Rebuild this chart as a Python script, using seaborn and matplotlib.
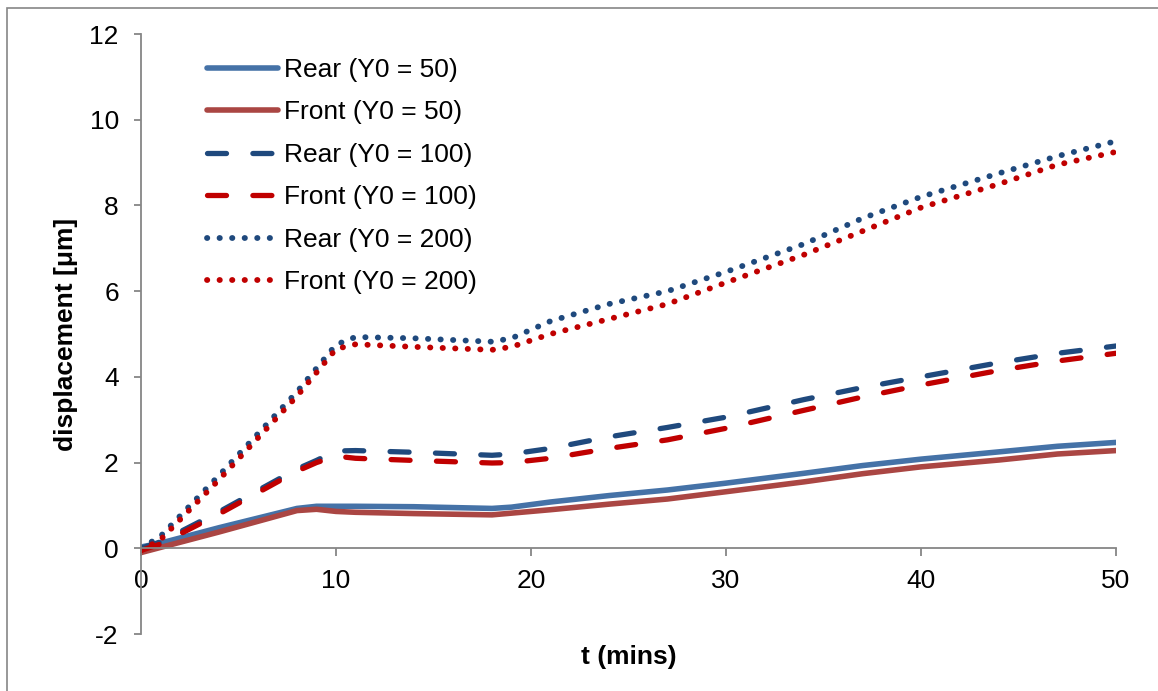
import matplotlib
matplotlib.use("Agg")
import matplotlib.pyplot as plt
import seaborn as sns
import pandas as pd
from matplotlib.patches import Rectangle

# ---- data ----
t = [0, 1, 4, 8, 9, 10, 11, 14, 18, 19, 21, 24, 27, 30, 34, 37, 40, 44, 47, 50]
rear_50 = [0.03, 0.12, 0.48, 0.93, 0.98, 0.98, 0.98, 0.97, 0.93, 0.96, 1.08, 1.23, 1.36, 1.52, 1.75, 1.93, 2.08, 2.25, 2.38, 2.47]
front_50 = [-0.1, 0.02, 0.38, 0.88, 0.91, 0.86, 0.84, 0.81, 0.78, 0.82, 0.90, 1.03, 1.15, 1.32, 1.55, 1.74, 1.90, 2.06, 2.20, 2.28]
rear_100 = [0.0, 0.15, 0.85, 1.85, 2.05, 2.27, 2.28, 2.24, 2.17, 2.20, 2.33, 2.60, 2.82, 3.06, 3.47, 3.75, 4.00, 4.33, 4.55, 4.72]
front_100 = [-0.05, 0.10, 0.80, 1.80, 2.00, 2.15, 2.10, 2.05, 1.99, 2.00, 2.10, 2.33, 2.53, 2.80, 3.22, 3.53, 3.81, 4.15, 4.37, 4.55]
rear_200 = [0.0, 0.28, 1.70, 3.65, 4.20, 4.75, 4.93, 4.90, 4.82, 4.90, 5.30, 5.70, 6.00, 6.45, 7.10, 7.70, 8.20, 8.75, 9.15, 9.50]
front_200 = [-0.05, 0.20, 1.60, 3.55, 4.10, 4.65, 4.76, 4.70, 4.63, 4.70, 5.00, 5.35, 5.70, 6.20, 6.85, 7.40, 7.95, 8.50, 8.95, 9.25]

labels = ["Rear (Y0 = 50)", "Front (Y0 = 50)", "Rear (Y0 = 100)",
          "Front (Y0 = 100)", "Rear (Y0 = 200)", "Front (Y0 = 200)"]
series = [rear_50, front_50, rear_100, front_100, rear_200, front_200]
colors = ["#4572A7", "#AA4643", "#1F497D", "#C00000", "#1F497D", "#C00000"]
styles = ["-", "-", (0, (3.6, 5.0)), (0, (3.6, 5.0)), (0, (0.05, 2.1)), (0, (0.05, 2.1))]
widths = [4.0, 4.0, 3.8, 3.8, 4.2, 4.2]

x_ticks = [0, 10, 20, 30, 40, 50]
y_ticks = [-2, 0, 2, 4, 6, 8, 10, 12]

sns.set_theme(style="white")
plt.rcParams["font.family"] = ["Liberation Sans", "DejaVu Sans"]

W, H = 1158, 691
fig = plt.figure(figsize=(W / 100, H / 100), dpi=100)
ax = fig.add_axes([141 / W, 1 - 634 / H, (1116 - 141) / W, 600 / H])

for vals, lab, col, ls, lw in zip(series, labels, colors, styles, widths):
    df = pd.DataFrame({"t": t, "v": vals})
    sns.lineplot(data=df, x="t", y="v", ax=ax, color=col, label=lab,
                 linestyle=ls, linewidth=lw, dash_capstyle="round",
                 solid_capstyle="round", sort=False, estimator=None)

ax.set_xlim(0, 50)
ax.set_ylim(-2, 12)
ax.set_xticks(x_ticks)
ax.set_yticks(y_ticks)
ax.set_xticklabels([str(v) for v in x_ticks])
ax.set_yticklabels([str(v) for v in y_ticks])

gray = "#868686"
for s in ["top", "right"]:
    ax.spines[s].set_visible(False)
ax.spines["bottom"].set_position(("data", 0))
ax.spines["left"].set_color(gray)
ax.spines["bottom"].set_color(gray)
ax.spines["left"].set_linewidth(1.3)
ax.spines["bottom"].set_linewidth(1.3)
ax.tick_params(axis="y", direction="out", length=5, width=1.3, color=gray,
               labelsize=19, labelcolor="black", pad=11, left=True)
ax.tick_params(axis="x", direction="out", length=6, width=1.3, color=gray,
               labelsize=19, labelcolor="black", pad=9, bottom=True)
ax.grid(False)

ax.set_xlabel("t (mins)", fontsize=19, fontweight="bold", color="black")
ax.set_ylabel("displacement [μm]", fontsize=19, fontweight="bold", color="black")
ax.xaxis.label.set_va("center")
ax.xaxis.set_label_coords(0.5, (634 - 657) / 600)
ax.yaxis.label.set_va("center")
ax.yaxis.set_label_coords((66 - 141) / 975, 0.5)

leg = ax.legend(loc="upper left", bbox_to_anchor=(207 / W, 1 - 58 / H),
                bbox_transform=fig.transFigure, frameon=False, fontsize=19,
                handlelength=2.7, handletextpad=0.2, labelspacing=0.7,
                borderpad=0, borderaxespad=0)
for txt in leg.get_texts():
    txt.set_color("black")

fig.add_artist(Rectangle((7.5 / W, -0.05), 1.2, (H - 8) / H + 0.05,
                         transform=fig.transFigure, fill=False,
                         edgecolor=gray, linewidth=1.2))

fig.savefig("out.png", dpi=100, facecolor="white")
